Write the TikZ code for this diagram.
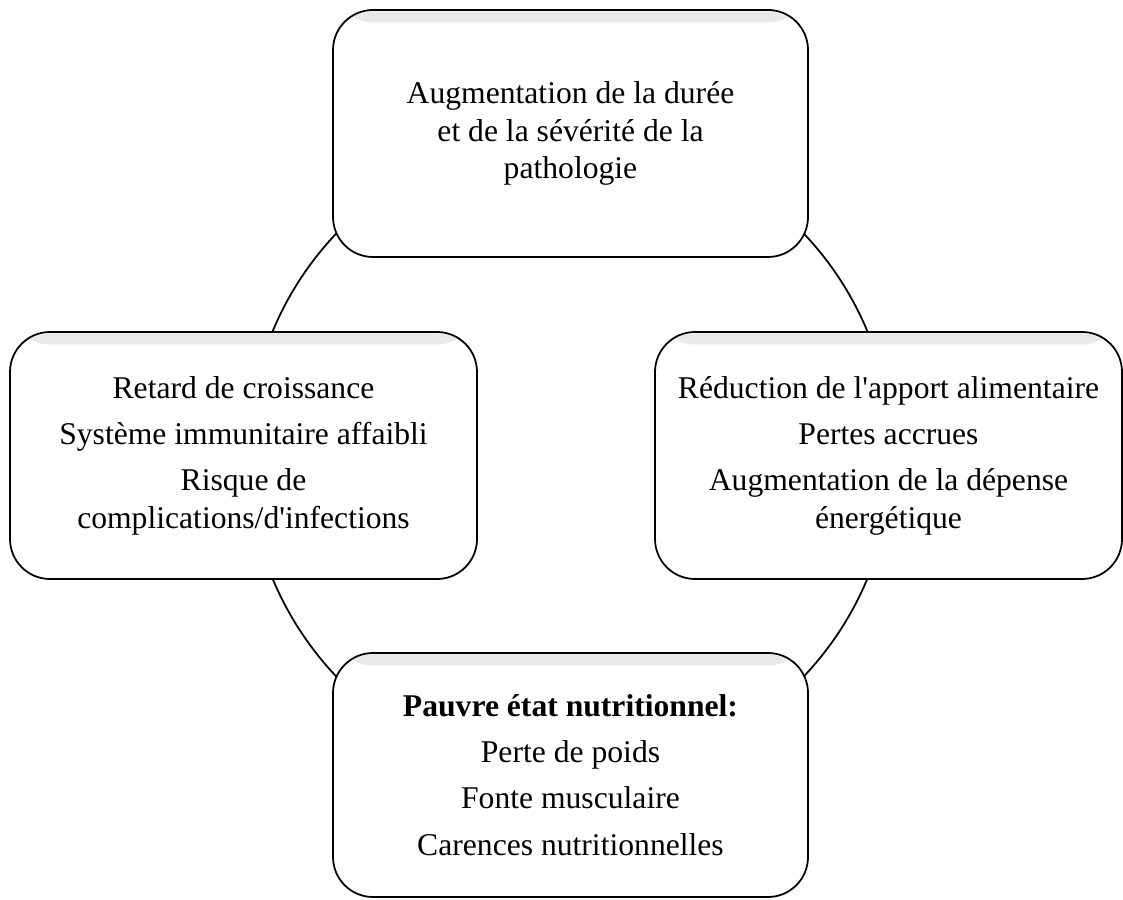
\documentclass[tikz,border=0pt]{standalone}
\usepackage{fontspec}
\setmainfont{Liberation Serif}
\usetikzlibrary{backgrounds}

\tikzset{
    cyclebox/.style={draw, line width=1pt, fill=white, rounded corners=0.8cm,
        align=center, inner sep=0pt, minimum height=4.94cm,
        font=\fontsize{18}{21.3}\selectfont,
        path picture={\shade[top color=gray!18, bottom color=white]
            ([yshift=-0.03cm]path picture bounding box.north west) rectangle
            ([yshift=-0.25cm]path picture bounding box.north east);}},
    cycleline/.style={line width=1pt}
}

\begin{document}
\begin{tikzpicture}
    \useasboundingbox (0,0) rectangle (22.46,17.98);

    % the four stages
    \node[cyclebox, minimum width=9.5cm] (duree) at (11.41,15.31)
        {Augmentation de la durée\\et de la sévérité de la\\pathologie};
    \node[cyclebox, minimum width=9.34cm] (apport) at (17.77,8.87)
        {Réduction de l\textquotesingle apport alimentaire\\[5pt]Pertes accrues\\[5pt]Augmentation de la dépense\\énergétique};
    \node[cyclebox, minimum width=9.5cm, minimum height=4.88cm] (etat) at (11.41,2.48)
        {\textbf{Pauvre état nutritionnel:}\\[5pt]Perte de poids\\[5pt]Fonte musculaire\\[5pt]Carences nutritionnelles};
    \node[cyclebox, minimum width=9.34cm] (retard) at (4.87,8.87)
        {Retard de croissance\\[5pt]Système immunitaire affaibli\\[5pt]Risque de\\complications/d\textquotesingle infections};

    % cycle behind the boxes
    \coordinate (hub) at (11.4,8.88);
    \begin{scope}[on background layer]
        \draw[cycleline] (hub) circle (6.44);
    \end{scope}
\end{tikzpicture}
\end{document}
